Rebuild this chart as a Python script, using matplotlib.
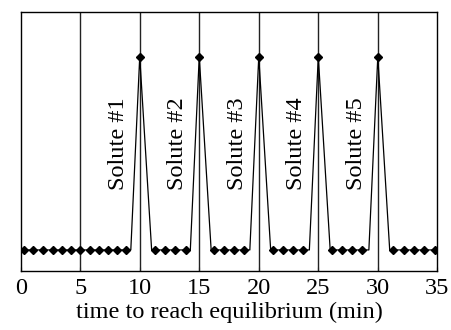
import matplotlib
matplotlib.use("Agg")
import matplotlib.pyplot as plt

# ---------------- DATA ----------------
# baseline points with diamond markers
base_x = [0.28, 1.06, 1.88, 2.68, 3.45, 4.23, 5.02, 5.80, 6.58, 7.35, 8.12, 8.88,
          11.25, 12.10, 12.95, 13.85,
          16.25, 17.10, 17.95, 18.80,
          21.20, 22.05, 22.90, 23.75,
          26.15, 27.00, 27.85, 28.70,
          31.30, 32.20, 33.05, 33.90, 34.80]
# peaks (one per solute)
peak_x = [10, 15, 20, 25, 30]
peak_labels = ["Solute #1", "Solute #2", "Solute #3", "Solute #4", "Solute #5"]
# feet of each peak on the baseline (no marker)
foot_x = [9.25, 11.0, 14.25, 16.0, 19.25, 21.0, 24.25, 26.0, 29.25, 31.0]
# vertical separators
vline_x = [5, 10, 15, 20, 25, 30]
xticks = [0, 5, 10, 15, 20, 25, 30, 35]

plt.rcParams['font.family'] = ['Liberation Serif', 'DejaVu Serif']

fig = plt.figure(figsize=(4.52, 3.30), dpi=100)
ax = fig.add_axes([0.0458, 0.1788, 0.9217, 0.7857])

# combined line path
pts = [(x, 0.0) for x in base_x] + [(x, 1.0) for x in peak_x] + [(x, 0.0) for x in foot_x]
pts.sort()
ax.plot([p[0] for p in pts], [p[1] for p in pts], color="black", lw=0.9, zorder=3)

ax.plot(base_x, [0.0] * len(base_x), "D", color="black", ms=4, zorder=4)
ax.plot(peak_x, [1.0] * len(peak_x), "D", color="black", ms=4, zorder=4)

for x in vline_x:
    ax.axvline(x, color="#222222", lw=1.0, zorder=2)

for x, lab in zip(peak_x, peak_labels):
    ax.text(x - 1.82, 0.55, lab, rotation=90, ha="center", va="center", fontsize=17.5)

ax.set_xlim(0, 35)
ax.set_ylim(-0.109, 1.233)
ax.set_xticks(xticks)
ax.set_yticks([])
ax.tick_params(axis="x", direction="in", length=3, pad=5, labelsize=17.5)
ax.set_xlabel("time to reach equilibrium (min)", fontsize=17.5, labelpad=2)
for s in ax.spines.values():
    s.set_linewidth(1.0)

fig.savefig("out.png", dpi=100)
